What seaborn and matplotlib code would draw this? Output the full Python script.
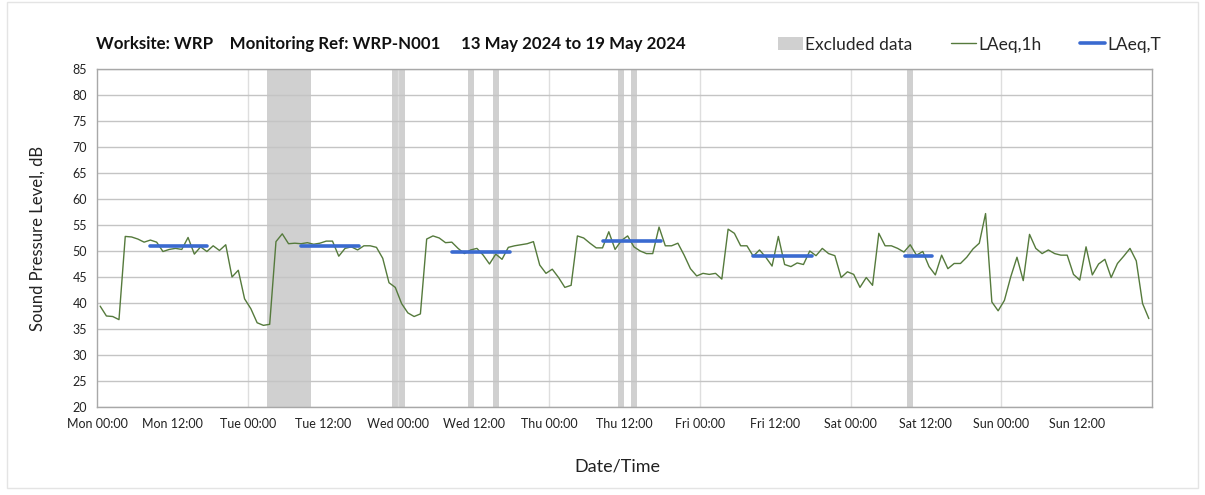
import matplotlib
matplotlib.use("Agg")
import numpy as np
import pandas as pd
import matplotlib.pyplot as plt
import seaborn as sns
from matplotlib.patches import Patch, Rectangle
from matplotlib.lines import Line2D

# Hourly LAeq,1h values (dB), Mon 00:00 -> Sun 23:00
laeq_1h = [
    39.4, 37.5, 37.4, 36.8, 52.8, 52.7, 52.3, 51.7, 52.1, 51.7, 49.9, 50.3,
    50.5, 50.3, 52.6, 49.4, 50.8, 49.9, 51.0, 50.1, 51.2, 45.0, 46.3, 40.8,
    38.9, 36.2, 35.7, 35.9, 51.8, 53.3, 51.4, 51.5, 51.4, 51.6, 51.3, 51.5,
    51.9, 51.9, 49.0, 50.5, 50.8, 50.2, 51.0, 51.0, 50.7, 48.6, 43.9, 43.0,
    39.9, 38.1, 37.4, 37.9, 52.3, 52.9, 52.5, 51.6, 51.7, 50.5, 49.5, 50.2,
    50.5, 49.2, 47.5, 49.4, 48.4, 50.7, 51.0, 51.2, 51.4, 51.8, 47.3, 45.7,
    46.5, 44.9, 43.0, 43.4, 52.9, 52.5, 51.5, 50.6, 50.6, 53.7, 50.3, 52.0,
    52.9, 50.8, 50.0, 49.5, 49.5, 54.6, 51.0, 51.0, 51.5, 49.2, 46.6, 45.2,
    45.7, 45.5, 45.7, 44.6, 54.2, 53.4, 51.0, 51.0, 49.0, 50.2, 48.8, 47.1,
    52.8, 47.4, 47.0, 47.7, 47.4, 50.0, 49.1, 50.5, 49.5, 49.1, 44.9, 46.0,
    45.5, 43.0, 44.9, 43.4, 53.4, 51.0, 51.0, 50.5, 49.8, 51.2, 49.2, 49.9,
    47.0, 45.4, 49.2, 46.6, 47.6, 47.6, 48.8, 50.4, 51.5, 57.2, 40.2, 38.5,
    40.5, 45.0, 48.8, 44.3, 53.2, 50.5, 49.5, 50.2, 49.5, 49.2, 49.2, 45.5,
    44.4, 50.8, 45.4, 47.5, 48.4, 44.9, 47.6, 49.0, 50.5, 48.1, 39.9, 37.0,
]

# LAeq,T daytime periods (hours from Mon 00:00)
laeq_t_start = [8.5, 32.5, 56.5, 80.5, 104.5, 128.7]
laeq_t_end = [17.5, 41.7, 65.7, 89.8, 113.9, 133.0]
laeq_t_value = [51.0, 50.9, 49.8, 51.9, 49.1, 49.0]

# Excluded periods (hours from Mon 00:00)
excl_start = [27, 47, 59, 63, 83, 85, 129]
excl_end = [34, 49, 60, 64, 84, 86, 130]

tick_labels = ["Mon 00:00", "Mon 12:00", "Tue 00:00", "Tue 12:00", "Wed 00:00",
               "Wed 12:00", "Thu 00:00", "Thu 12:00", "Fri 00:00", "Fri 12:00",
               "Sat 00:00", "Sat 12:00", "Sun 00:00", "Sun 12:00", ""]

sns.set_style("white")
plt.rcParams['font.family'] = ['Lato', 'DejaVu Sans']

df = pd.DataFrame({'hour': np.arange(len(laeq_1h)) + 0.5, 'laeq': laeq_1h})
df_t = pd.DataFrame({
    'hour': [h for pair in zip(laeq_t_start, laeq_t_end) for h in pair],
    'laeq': [v for v in laeq_t_value for _ in range(2)],
    'period': [i for i in range(len(laeq_t_value)) for _ in range(2)],
})

fig = plt.figure(figsize=(12.05, 4.95), dpi=100)
ax = fig.add_axes([0.0805, 0.1778, 0.8755, 0.6828])

grey = '#d0d0d0'
green = '#557a3c'
blue = '#3a6ad0'

for s, e in zip(excl_start, excl_end):
    ax.axvspan(s, e, color=grey, lw=0, zorder=0.3)

sns.lineplot(data=df, x='hour', y='laeq', ax=ax, color=green, lw=1.0, zorder=3)
sns.lineplot(data=df_t, x='hour', y='laeq', units='period', estimator=None,
             ax=ax, color=blue, lw=2.6, zorder=4)

ax.set_xlim(0, 168)
ax.set_ylim(20, 85)
ax.set_yticks(np.arange(20, 86, 5))
ax.set_xticks(np.arange(0, 169, 12))
ax.set_xticklabels(tick_labels)
ax.set_axisbelow(True)
ax.yaxis.grid(True, color='#c4c4c4', lw=1.0)
for d in range(1, 7):
    ax.axvline(d * 24, color='#dedede', lw=1.0, zorder=0.5)

for sp in ax.spines.values():
    sp.set_color('#a8a8a8')
    sp.set_linewidth(1.0)
ax.tick_params(axis='x', direction='out', length=5, color='#a8a8a8', labelsize=9,
               labelcolor='#222222', pad=3)
ax.tick_params(axis='y', direction='out', length=4, color='#a8a8a8', labelsize=9,
               labelcolor='#222222', pad=3)
ax.set_xlabel('')
ax.set_ylabel('')

fig.text(0.031, 0.518, 'Sound Pressure Level, dB', rotation=90, va='center', ha='center',
         fontsize=12, color='#222222')
fig.text(0.512, 0.058, 'Date/Time', va='center', ha='center', fontsize=13, color='#222222')
fig.text(0.0795, 0.912,
         'Worksite: WRP    Monitoring Ref: WRP-N001     13 May 2024 to 19 May 2024',
         va='center', ha='left', fontsize=12.2, fontweight='bold', color='#111111')

handles = [Patch(facecolor=grey, edgecolor='none'),
           Line2D([], [], color=green, lw=1.0),
           Line2D([], [], color=blue, lw=2.6)]
fig.legend(handles, ['Excluded data', 'LAeq,1h', 'LAeq,T'], loc='center right',
           bbox_to_anchor=(0.964, 0.91), ncol=3, frameon=False, fontsize=12.5,
           handlelength=1.45, handletextpad=0.15, columnspacing=2.2,
           borderaxespad=0, borderpad=0)

fig.patches.append(Rectangle((0.006, 0.015), 0.988, 0.98, transform=fig.transFigure,
                             fill=False, edgecolor='#e4e4e4', lw=1.0))

fig.savefig('out.png', dpi=100)
